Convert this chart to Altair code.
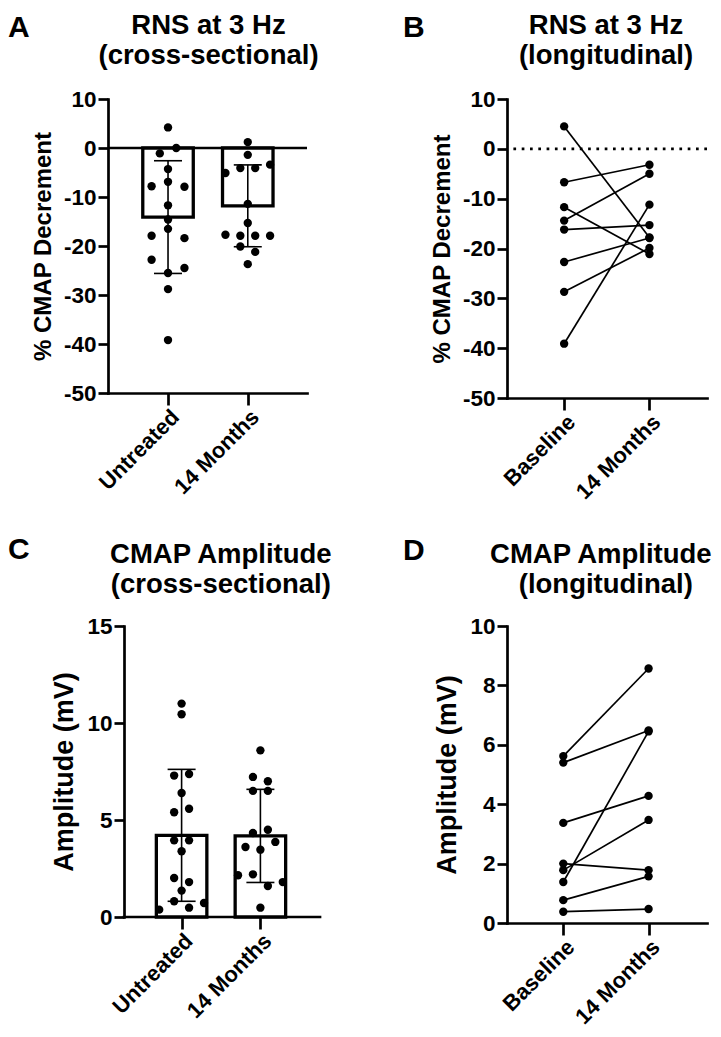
import altair as alt
import pandas as pd

# ---------------- data ----------------
# Panel A: RNS at 3 Hz (cross-sectional)
a_groups = ["Untreated", "14 Months"]
a_untreated = [4.2, -1.1, 0.0, -4.3, -7.8, -6.9, -7.9, -11.7, -14.6, -17.9, -16.5,
               -18.4, -22.8, -25.5, -24.5, -28.8, -39.2]
a_14mo = [1.2, -1.4, -5.1, -4.1, -4.1, -3.4, -11.4, -15.3, -17.7, -17.9, -17.9,
          -17.9, -20.1, -21.2, -23.7]
a_mean = [-14.1, -11.8]
a_sd = [11.5, 8.35]

# Panel B: RNS at 3 Hz (longitudinal), paired subjects
b_groups = ["Baseline", "14 Months"]
b_baseline = [4.5, -6.7, -11.7, -14.4, -16.2, -22.7, -28.7, -39.1]
b_14mo = [-17.8, -3.2, -21.1, -5.0, -15.3, -17.9, -19.9, -11.2]

# Panel C: CMAP Amplitude (cross-sectional)
c_groups = ["Untreated", "14 Months"]
c_untreated = [11.0, 10.45, 7.29, 7.37, 6.39, 5.40, 5.58, 3.95, 3.95, 3.39, 2.01,
               1.80, 1.36, 0.38, 0.81, 0.48, 0.72]
c_14mo = [8.59, 7.22, 7.0, 6.5, 6.5, 4.33, 4.5, 3.61, 3.47, 3.87, 2.15, 2.20,
          1.60, 1.80, 0.48]
c_mean = [4.21, 4.18]
c_sd = [3.4, 2.4]

# Panel D: CMAP Amplitude (longitudinal), paired subjects
d_groups = ["Baseline", "14 Months"]
d_baseline = [5.62, 5.40, 3.37, 2.0, 1.78, 1.38, 0.77, 0.38]
d_14mo = [8.57, 6.48, 4.28, 1.78, 3.47, 6.45, 1.57, 0.47]

# ---------------- styling / layout ----------------
FONT = "Liberation Sans"
DOT = 70
TOP = 91          # space above every plot area
LEFT0, LEFT1 = 100, 105
RIGHT0, RIGHT1 = 232, 206
BOT0, BOT1 = 410, 380


def swarm(values, px_per_unit, diam=8.45, spacing=17.3, maxw=47.0):
    """Simple beeswarm: values closer than a dot diameter share a row."""
    order = sorted(range(len(values)), key=lambda i: -values[i])
    rows = []
    for i in order:
        if rows and (values[rows[-1][-1]] - values[i]) * px_per_unit < diam:
            rows[-1].append(i)
        else:
            rows.append([i])
    nmax = max(len(r) for r in rows)
    sp = spacing if nmax < 2 else min(spacing, maxw / (nmax - 1))
    off = [0.0] * len(values)
    for r in rows:
        r = sorted(r)
        n = len(r)
        for k, i in enumerate(r):
            off[i] = (k - (n - 1) / 2) * sp
    return off


def xenc(field, groups, xdom, domain_line=True):
    expr = "datum.value == 1 ? '%s' : '%s'" % (groups[0], groups[1])
    return alt.X(field, type="quantitative",
                 scale=alt.Scale(domain=xdom, nice=False, zero=False),
                 axis=alt.Axis(values=[1, 2], labelExpr=expr, title=None,
                               labelAngle=-45, labelAlign="right",
                               labelBaseline="top", labelFontSize=22,
                               tickSize=12, labelPadding=1, domain=domain_line))


def yenc(field, domain, ticks, title, tsize, yoff=0):
    return alt.Y(field, type="quantitative",
                 scale=alt.Scale(domain=domain, nice=False, zero=False),
                 axis=alt.Axis(values=ticks, title=title, titleFontSize=tsize,
                               labelExpr="'' + datum.value",
                               labelFontSize=22.5, tickSize=10, labelPadding=2,
                               titlePadding=8, offset=yoff))


def label(txt, x, y, size, align="center"):
    return alt.Chart(pd.DataFrame({"t": [txt]})).mark_text(
        text=txt, font=FONT, fontWeight="bold", fontSize=size, align=align,
        baseline="alphabetic", color="black").encode(x=alt.value(x), y=alt.value(y))


def frame(left, right, bottom):
    # invisible outline that fixes the space each panel takes in the grid
    return alt.Chart(pd.DataFrame({"f": [0]})).mark_rule(
        strokeOpacity=0, strokeWidth=1).encode(
        x=alt.value(-left + 0.5), x2=alt.value(right - 0.5),
        y=alt.value(-TOP + 0.5), y2=alt.value(bottom - 0.5))


def headers(hd):
    letter, lx, ly, t1, x1, y1, t2, x2, y2 = hd
    return [label(letter, lx, ly, 30, "left"),
            label(t1, x1, y1, 27.5),
            label(t2, x2, y2, 27.5)]


def bar_panel(groups, vals, means, sds, domain, ticks, ytitle, tsize, w, h,
              xdom, hd, fr, zero_line, yoff=0):
    ppu_x = w / (xdom[1] - xdom[0])
    ppu_y = h / (domain[1] - domain[0])
    rows = []
    for gi, vs in enumerate(vals):
        offs = swarm(vs, ppu_y)
        for v, o in zip(vs, offs):
            rows.append({"g": groups[gi], "x": gi + 1 + o / ppu_x, "v": v})
    pts = pd.DataFrame(rows)
    summ = pd.DataFrame({"x": [1, 2], "m": means,
                         "lo": [m - s for m, s in zip(means, sds)],
                         "hi": [m + s for m, s in zip(means, sds)]})
    caps = pd.DataFrame({"x": [1, 2, 1, 2],
                         "c": list(summ["lo"]) + list(summ["hi"])})
    Y = lambda f: yenc(f, domain, ticks, ytitle, tsize, yoff)
    X = lambda f: xenc(f, groups, xdom, yoff == 0)
    layers = [frame(*fr)]
    if zero_line:
        layers.append(alt.Chart(pd.DataFrame({"z": [0]})).mark_rule(
            color="black", strokeWidth=2.7).encode(y=Y("z")))
    if yoff != 0:
        # x-axis baseline starting at the (inset) y axis
        layers.append(alt.Chart(pd.DataFrame({"z": [domain[0]]})).mark_rule(
            color="black", strokeWidth=2.7, strokeCap="square").encode(
            y=Y("z"), x=alt.value(-yoff), x2=alt.value(w)))
    layers += [
        alt.Chart(summ).mark_bar(size=50.5, fill="white", stroke="black",
                                 strokeWidth=3.3, orient="vertical").encode(
            x=X("x"), y=Y("m")),
        alt.Chart(summ).mark_rule(color="black", strokeWidth=1.6).encode(
            x=X("x"), y=Y("lo"), y2="hi"),
        alt.Chart(caps).mark_tick(orient="horizontal", size=28, thickness=1.6,
                                  color="black", opacity=1).encode(
            x=X("x"), y=Y("c")),
        alt.Chart(pts).mark_circle(size=DOT, color="black", opacity=1).encode(
            x=X("x"), y=Y("v")),
    ]
    layers += headers(hd)
    return alt.layer(*layers).properties(width=w, height=h)


def pair_panel(groups, before, after, domain, ticks, ytitle, tsize, w, h,
               xdom, hd, fr, dotted):
    rows = []
    for i, (b, a) in enumerate(zip(before, after)):
        rows.append({"id": i, "x": 1, "v": b})
        rows.append({"id": i, "x": 2, "v": a})
    df = pd.DataFrame(rows)
    Y = lambda f: yenc(f, domain, ticks, ytitle, tsize)
    X = lambda f: xenc(f, groups, xdom)
    layers = [frame(*fr)]
    if dotted:
        layers.append(alt.Chart(pd.DataFrame({"z": [0]})).mark_rule(
            color="black", strokeWidth=2.7, strokeDash=[2.7, 5.6],
            strokeCap="butt").encode(y=Y("z")))
    layers += [
        alt.Chart(df).mark_line(color="black", strokeWidth=1.7).encode(
            x=X("x"), y=Y("v"), detail="id:N"),
        alt.Chart(df).mark_circle(size=DOT, color="black", opacity=1).encode(
            x=X("x"), y=Y("v")),
    ]
    layers += headers(hd)
    return alt.layer(*layers).properties(width=w, height=h)


A = bar_panel(a_groups, [a_untreated, a_14mo], a_mean, a_sd, [-50, 10],
              [-50, -40, -30, -20, -10, 0, 10], "% CMAP Decrement", 24, 199, 294,
              [0.31, 2.68],
              ("A", -100, -62.5, "RNS at 3 Hz", 100.5, -65, "(cross-sectional)", 100.5, -35),
              (LEFT0, RIGHT0, BOT0), True)
B = pair_panel(b_groups, b_baseline, b_14mo, [-50, 10],
               [-50, -40, -30, -20, -10, 0, 10], "% CMAP Decrement", 24, 200, 299,
               [0.33, 2.675],
               ("B", -104, -62.5, "RNS at 3 Hz", 99, -65, "(longitudinal)", 99, -35),
               (LEFT1, RIGHT1, BOT0), True)
C = bar_panel(c_groups, [c_untreated, c_14mo], c_mean, c_sd, [0, 15],
              [0, 5, 10, 15], "Amplitude (mV)", 27, 212, 291,
              [0.1294, 2.6929],
              ("C", -100, -67, "CMAP Amplitude", 112.8, -63, "(cross-sectional)", 112.8, -33),
              (LEFT0, RIGHT0, BOT1), False, yoff=-16)
D = pair_panel(d_groups, d_baseline, d_14mo, [0, 10],
               [0, 2, 4, 6, 8, 10], "Amplitude (mV)", 27, 200, 297,
               [0.34, 2.685],
               ("D", -104, -66, "CMAP Amplitude", 93.8, -63, "(longitudinal)", 98.8, -33),
               (LEFT1, RIGHT1, BOT1), False)

axis_cfg = alt.AxisConfig(
    domainColor="black", domainWidth=2.7, tickColor="black", tickWidth=2.7,
    labelColor="black", titleColor="black", labelFont=FONT, titleFont=FONT,
    labelFontWeight="bold", titleFontWeight="bold", grid=False,
    domainCap="square", labelOverlap=False)

chart = alt.concat(
    A, B, C, D,
    columns=2, align="each", spacing={"row": 26, "column": 62},
).properties(
    padding=0
).configure(
    background="white", axis=axis_cfg, view=alt.ViewConfig(stroke=None)
)

chart.save("out.html", embed_options={"renderer": "svg", "actions": False})
